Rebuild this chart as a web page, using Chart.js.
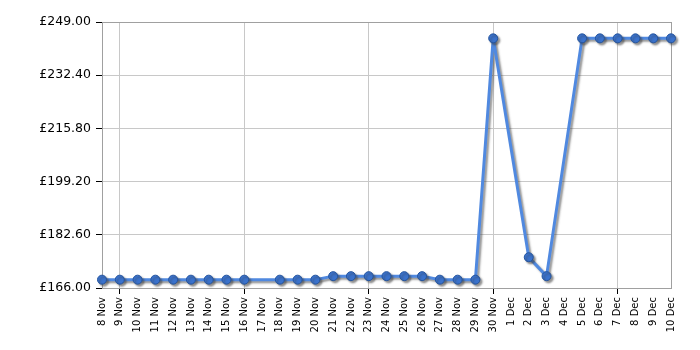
<!DOCTYPE html>
<html>
<head>
<meta charset="utf-8">
<script src="https://cdn.jsdelivr.net/npm/chart.js@4"></script>
<style>
  html, body { margin: 0; padding: 0; background: #fff; }
  #wrap { width: 700px; height: 350px; }
</style>
</head>
<body>
<div id="wrap"><canvas id="priceChart" width="700" height="350"></canvas></div>
<script>
// Price history, 8 Nov - 10 Dec (null = no reading that day)
const days = ["8 Nov", "9 Nov", "10 Nov", "11 Nov", "12 Nov", "13 Nov", "14 Nov", "15 Nov", "16 Nov", "17 Nov",
  "18 Nov", "19 Nov", "20 Nov", "21 Nov", "22 Nov", "23 Nov", "24 Nov", "25 Nov", "26 Nov", "27 Nov", "28 Nov",
  "29 Nov", "30 Nov", "1 Dec", "2 Dec", "3 Dec", "4 Dec", "5 Dec", "6 Dec", "7 Dec", "8 Dec", "9 Dec", "10 Dec"];
const prices = [168.6, 168.6, 168.6, 168.6, 168.6, 168.6, 168.6, 168.6, 168.6, null,
  168.6, 168.6, 168.6, 169.7, 169.7, 169.7, 169.7, 169.7, 169.7, 168.6, 168.6,
  168.6, 243.9, null, 175.6, 169.7, null, 243.9, 243.9, 243.9, 243.9, 243.9, 243.9];
const yTicks = [166.0, 182.6, 199.2, 215.8, 232.4, 249.0];

const FONT = "'DejaVu Sans', Verdana, sans-serif";

// plot frame + soft grey drop shadow under line and markers
const shadowPlugin = {
  id: "shadow",
  beforeDatasetsDraw(chart) {
    const c = chart.ctx;
    const a = chart.chartArea;
    c.save();
    c.strokeStyle = "#a0a0a0";
    c.lineWidth = 1;
    c.strokeRect(Math.round(a.left) + 0.5, Math.round(a.top) + 0.5,
      Math.round(a.right - a.left), Math.round(a.bottom - a.top));
    c.restore();
    c.save();
    c.shadowColor = "rgba(60,60,60,0.55)";
    c.shadowBlur = 2;
    c.shadowOffsetX = 2;
    c.shadowOffsetY = 2;
  },
  afterDatasetsDraw(chart) {
    chart.ctx.restore();
  }
};

new Chart(document.getElementById("priceChart"), {
  type: "line",
  data: {
    labels: days,
    datasets: [{
      data: prices,
      borderColor: "#5089e0",
      borderWidth: 3,
      borderJoinStyle: "round",
      pointRadius: 4.5,
      pointBackgroundColor: "#3a72cc",
      pointBorderColor: "#24549e",
      pointBorderWidth: 1,
      spanGaps: true,
      tension: 0,
      clip: false,
    }]
  },
  options: {
    responsive: false,
    animation: false,
    events: [],
    layout: { padding: { top: 22, right: 29, left: 0, bottom: 0 } },
    plugins: { legend: { display: false }, tooltip: { enabled: false } },
    scales: {
      x: {
        offset: false,
        border: { display: true, color: "#a0a0a0" },
        grid: {
          color: ctx => (ctx.index % 7 === 1 ? "#c8c8c8" : "rgba(0,0,0,0)"),
          tickColor: ctx => (ctx.index % 7 === 1 ? "#000" : "rgba(0,0,0,0)"),
          tickLength: 6,
        },
        ticks: {
          autoSkip: false,
          maxRotation: 90,
          minRotation: 90,
          padding: 3,
          color: "#000",
          font: { family: FONT, size: 10 },
        },
        afterFit: s => { s.height = 62; }
      },
      y: {
        min: 166,
        max: 249,
        border: { display: true, color: "#a0a0a0" },
        grid: { color: "#c8c8c8", tickColor: "#000", tickLength: 6 },
        afterBuildTicks: s => { s.ticks = yTicks.map(v => ({ value: v })); },
        ticks: {
          padding: 5,
          color: "#000",
          font: { family: FONT, size: 12.5 },
          callback: v => "£" + Number(v).toFixed(2),
        },
        afterFit: s => { s.width = 102; }
      }
    }
  },
  plugins: [shadowPlugin]
});
</script>
</body>
</html>
